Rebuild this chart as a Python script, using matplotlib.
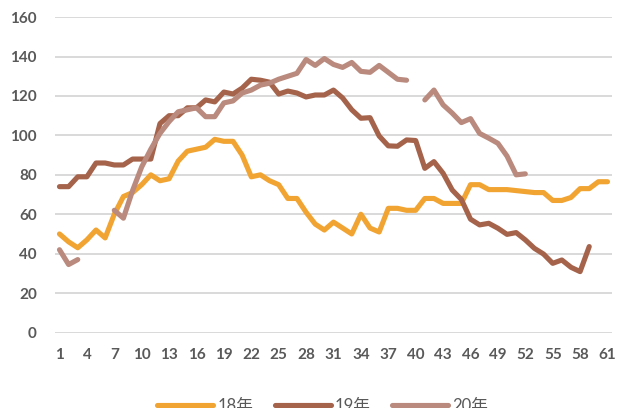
import numpy as np
from matplotlib import pyplot as plt

plt.rcParams['font.family'] = ['Lato', 'Noto Sans CJK SC', 'DejaVu Sans']

# semanas 1..61
semanas = list(range(1, 62))

s18 = [50, 46, 43, 47, 52, 48, 60, 69, 71, 75,
       80, 77, 78, 87, 92, 93, 94, 98, 97, 97,
       90, 79, 80, 77, 75, 68, 68, 61, 55, 52,
       56, 53, 50, 60, 53, 51, 63, 63, 62, 62,
       68, 68, 65.5, 65.5, 65.5, 75, 75, 72.5, 72.5, 72.5,
       72, 71.5, 71, 71, 67, 67, 68.5, 73, 73, 76.5,
       76.5]

s19 = [74, 74, 79, 79, 86, 86, 85, 85, 88, 88,
       88, 106, 110, 110, 114, 114, 118, 117, 122, 121,
       124, 128.5, 128, 127, 121, 122.5, 121.5, 119.5, 120.5, 120.5,
       123, 119, 113, 108.7, 109, 99.7, 94.7, 94.5, 97.7, 97.4,
       83.3, 86.7, 80.8, 72.3, 67.5, 57.5, 54.6, 55.4, 52.9, 49.8,
       50.7, 47, 42.7, 39.8, 35.1, 36.8, 33.1, 30.9, 43.6, None,
       None]

s20 = [42, 34.5, 37, None, None, None, 62, 58, 72, 84,
       93, 101, 107, 112, 113, 114, 109.5, 109.5, 116.5, 117.5,
       121.5, 123, 125.5, 126.5, 128.5, 130, 131.5, 138.5, 135.5, 139,
       136, 134.5, 137, 132.5, 132, 135.5, 132, 128.5, 128, None,
       118, 123, 115.5, 111.3, 106.5, 108.5, 101, 98.6, 96, 89.5,
       80, 80.5, None, None, None, None, None, None, None, None,
       None]

series = [("18年", s18, "#F1A432"),
          ("19年", s19, "#A5634B"),
          ("20年", s20, "#B98A7D")]

fig, ax = plt.subplots(figsize=(6.17, 4.08), dpi=100)
fig.subplots_adjust(left=0.089, right=0.992, top=0.958, bottom=0.185)

x = np.arange(len(semanas))
for nome, vals, cor in series:
    y = np.array([np.nan if v is None else v for v in vals], dtype=float)
    ax.plot(x, y, color=cor, lw=3.7, label=nome,
            solid_capstyle='round', solid_joinstyle='round', zorder=3)

ax.set_xlim(-0.5, len(semanas) - 0.5)
ax.set_ylim(0, 160)
ax.set_yticks(range(0, 161, 20))
ax.set_xticks(x[::3])
ax.set_xticklabels([str(s) for s in semanas[::3]])

ax.grid(True, axis='y', color='#D9D9D9', lw=1.4, zorder=0)
for s in ax.spines.values():
    s.set_visible(False)
ax.tick_params(length=0, labelsize=11, labelcolor='#595959')
ax.tick_params(axis='y', pad=13)
ax.tick_params(axis='x', pad=11.5)
for t in ax.get_xticklabels() + ax.get_yticklabels():
    t.set_fontweight('bold')

# a legenda fica cortada embaixo, como no original
leg = fig.legend(loc='center', bbox_to_anchor=(0.523, 0.006), ncol=3, frameon=False,
                 handlelength=3.35, handletextpad=0.25, columnspacing=1.3,
                 prop={'size': 12})
for t in leg.get_texts():
    t.set_color('#595959')

plt.savefig('out.png')
